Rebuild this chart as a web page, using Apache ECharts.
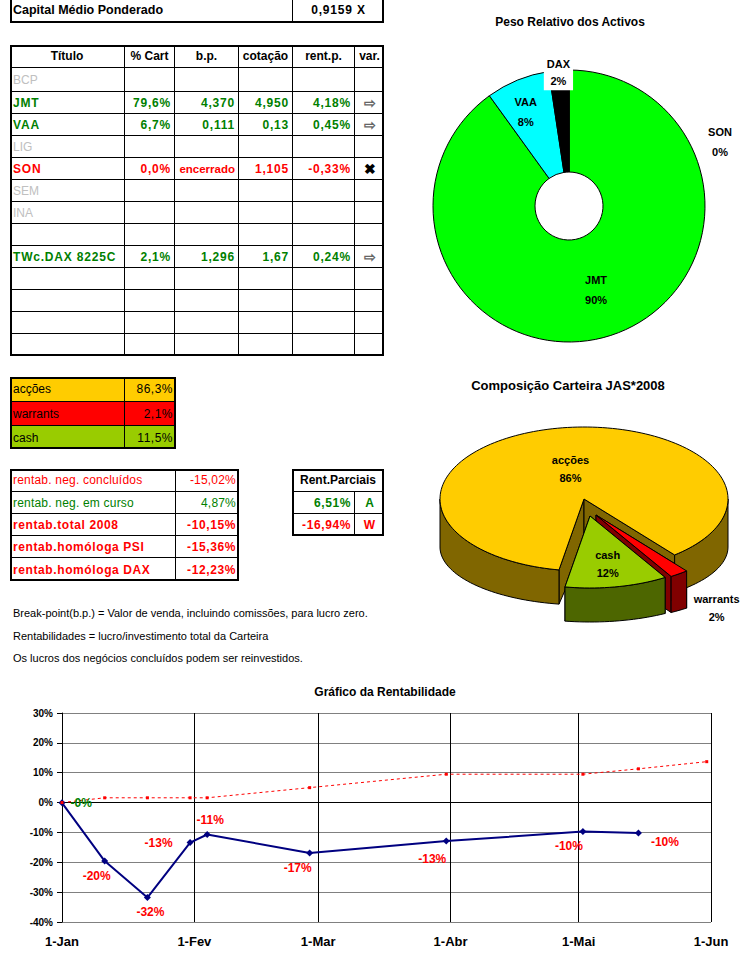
<!DOCTYPE html>
<html><head><meta charset="utf-8">
<script src="https://cdn.jsdelivr.net/npm/echarts@6/dist/echarts.min.js"></script>
<style>
html,body{margin:0;padding:0;background:#fff;width:749px;height:968px;overflow:hidden;}
body{position:relative;font-family:'Liberation Sans',Arial,sans-serif;}
#chart{position:absolute;left:0;top:0;width:749px;height:968px;}
#sheet{position:absolute;left:0;top:0;width:749px;height:968px;}
.cell{position:absolute;box-sizing:border-box;font-size:12px;white-space:nowrap;overflow:hidden;display:flex;align-items:center;padding:0 3px;}
.frame{position:absolute;box-sizing:border-box;border:2px solid #000;}
.note{position:absolute;left:13px;font-size:11px;color:#000;white-space:nowrap;}
</style></head><body>
<div id="chart"></div><div id="sheet"></div>
<script>
// ---------------- data ----------------
const capitalLabel = 'Capital Médio Ponderado';
const capitalValue = 0.9159;

const tableHeader = ['Título', '% Cart', 'b.p.', 'cotação', 'rent.p.', 'var.'];
const assetTitles = ['BCP','JMT','VAA','LIG','SON','SEM','INA','','TWc.DAX 8225C','','','',''];
const assetState  = ['off','on','on','off','closed','off','off','','on','','','',''];
const assetPctCart = [null,79.6,6.7,null,0.0,null,null,null,2.1,null,null,null,null];
const assetBP     = ['','4,370','0,111','','encerrado','','','','1,296','','','',''];
const assetQuote  = ['','4,950','0,13','','1,105','','','','1,67','','','',''];
const assetRentP  = [null,4.18,0.45,null,-0.33,null,null,null,0.24,null,null,null,null];
const assetVar    = ['','\u21E8','\u21E8','','\u2716','','','','\u21E8','','','',''];

const compNames  = ['acções','warrants','cash'];
const compValues = [86.3, 2.1, 11.5];

const rentNames  = ['rentab. neg. concluídos','rentab. neg. em curso','rentab.total 2008','rentab.homóloga PSI','rentab.homóloga DAX'];
const rentValues = [-15.02, 4.87, -10.15, -15.36, -12.23];
const partialTitle  = 'Rent.Parciais';
const partialValues = [6.51, -16.94];
const partialTags   = ['A','W'];

const notes = [
  'Break-point(b.p.) = Valor de venda, incluindo comissões, para lucro zero.',
  'Rentabilidades = lucro/investimento total da Carteira',
  'Os lucros dos negócios concluídos podem ser reinvestidos.'
];

const pieTitle   = 'Peso Relativo dos Activos';
const pieAssets  = ['JMT','VAA','DAX','SON'];
const pieWeights = [79.6, 6.7, 2.1, 0.0];

const compTitle = 'Composição Carteira JAS*2008';

const lineTitle   = 'Gráfico da Rentabilidade';
const monthLabels = ['Jan','Fev','Mar','Abr','Mai','Jun','Jul','Ago','Set','Out','Nov','Dez'];
const perfDates   = ['2008-01-01','2008-01-11','2008-01-21','2008-01-31','2008-02-04','2008-02-28','2008-03-31','2008-05-02','2008-05-15'];
const perfValues  = [-0.1, -19.6, -31.8, -13.4, -10.7, -16.9, -12.9, -9.7, -10.2];
const benchDates  = ['2008-01-01','2008-01-11','2008-01-21','2008-01-31','2008-02-04','2008-02-28','2008-03-31','2008-05-02','2008-05-15','2008-05-31'];
const benchValues = [0, 1.6, 1.6, 1.6, 1.6, 5.0, 9.5, 9.5, 11.3, 13.7];

// ---------------- styles ----------------
const GREEN = '#008000', RED = '#FF0000', GRAY = '#C0C0C0';
const FONT = "'Liberation Sans', Arial, sans-serif";
const stateColor = {on: GREEN, closed: RED, off: GRAY, '': '#000'};
const compColors = ['#FFCC00', '#FF0000', '#99CC00'];
const compSideColors = ['#806600', '#800000', '#4D6600'];
const compExplode = [[0,0],[12,16],[6,17]];
const compLabelK = [0.43, 1.5, 0.66];
const compLabelNudge = [[2,0],[-4,5],[0,1]];
const pieColors = ['#00FF00', '#00FFFF', '#000000', '#FFFFFF'];
const pieLabelNudge = [[0,0],[-10,-13],[-4,-46],[151,24]];
const perfLabelPlacement = [
  ['right',[0,0]], ['bottom',[-8,0]], ['bottom',[3,0]], ['left',[-9,0]], ['top',[3,0]],
  ['bottom',[-12,0]], ['bottom',[-14,3]], ['bottom',[-14,0]], ['right',[4,9]]
];

// ---------------- helpers ----------------
const fmt = (v, d) => v.toFixed(d).replace('.', ',');
const fmtPct = v => (v < 0 || Object.is(v, -0) ? '-' : '') + Math.abs(Math.round(v)) + '%';
const sheet = document.getElementById('sheet');

function grid(xs, ys, cells) {
  const W = xs[xs.length - 1], H = ys[ys.length - 1];
  cells.forEach(cl => {
    const cs = cl.cs || 1;
    const x = xs[cl.c], x2 = xs[cl.c + cs], y = ys[cl.r], y2 = ys[cl.r + 1];
    const d = document.createElement('div');
    d.className = 'cell';
    d.style.left = x + 'px'; d.style.top = y + 'px';
    d.style.width = (x2 - x) + 'px'; d.style.height = (y2 - y) + 'px';
    if (x2 < W) d.style.borderRight = '1px solid #000';
    if (y2 < H) d.style.borderBottom = '1px solid #000';
    if (cl.bg) d.style.background = cl.bg;
    d.style.justifyContent = cl.a === 'right' ? 'flex-end' : cl.a === 'center' ? 'center' : 'flex-start';
    d.style.color = cl.col || '#000';
    d.style.fontWeight = cl.b ? 'bold' : 'normal';
    if (cl.fs) d.style.fontSize = cl.fs + 'px';
    if (cl.ls) d.style.letterSpacing = cl.ls + 'px';
    d.textContent = cl.t || '';
    sheet.appendChild(d);
  });
  const f = document.createElement('div');
  f.className = 'frame';
  f.style.left = xs[0] + 'px'; f.style.top = ys[0] + 'px';
  f.style.width = (W - xs[0]) + 'px'; f.style.height = (H - ys[0]) + 'px';
  sheet.appendChild(f);
}

// capital box
grid([10,293,384], [-4,23], [
  {r:0,c:0,t:capitalLabel,b:true,fs:12.5},
  {r:0,c:1,t:fmt(capitalValue,4) + ' X',a:'center',b:true,ls:0.8}
]);

// main table
(function(){
  const xs = [10,125,175,239,293,355,384];
  const ys = [45,68,92,114,136,158,180,202,224,246,268,290,312,334,356];
  const cells = [];
  tableHeader.forEach((h,i) => cells.push({r:0,c:i,t:h,a:'center',b:true}));
  assetTitles.forEach((t,i) => {
    const r = i + 1, st = assetState[i], col = stateColor[st], b = (st === 'on' || st === 'closed');
    const ls = b ? 0.8 : 0;
    cells.push({r,c:0,t,col,b,ls});
    cells.push({r,c:1,t:assetPctCart[i]==null?'':fmt(assetPctCart[i],1)+'%',a:'right',col,b,ls});
    const bpTxt = assetBP[i];
    cells.push({r,c:2,t:bpTxt,a:'right',col,b,ls:bpTxt==='encerrado'?0:ls,fs:bpTxt==='encerrado'?11.5:null});
    cells.push({r,c:3,t:assetQuote[i],a:'right',col,b,ls});
    cells.push({r,c:4,t:assetRentP[i]==null?'':fmt(assetRentP[i],2)+'%',a:'right',col,b,ls});
    cells.push({r,c:5,t:assetVar[i],a:'center',col:assetVar[i]==='\u2716'?'#000':'#666',b:true,fs:14});
  });
  grid(xs, ys, cells);
})();

// composition table
grid([10,125,176], [377,402,426,449], compNames.flatMap((n,i) => [
  {r:i,c:0,t:n,bg:compColors[i]},
  {r:i,c:1,t:fmt(compValues[i],1)+'%',a:'right',bg:compColors[i],ls:0.5}
]));

// returns table
grid([10,176,239], [469,492,514,536,558,581], rentNames.flatMap((n,i) => {
  const col = rentValues[i] < 0 ? RED : GREEN, b = i >= 2;
  return [{r:i,c:0,t:n,col,b,ls:b?0.6:0.2},{r:i,c:1,t:fmt(rentValues[i],2)+'%',a:'right',col,b,ls:b?0.6:0.2}];
}));

// partial returns
grid([292,355,384], [469,492,514,536], [
  {r:0,c:0,cs:2,t:partialTitle,a:'center',b:true},
  ...partialValues.flatMap((v,i) => {
    const col = v < 0 ? RED : GREEN;
    return [{r:i+1,c:0,t:fmt(v,2)+'%',a:'right',col,b:true,ls:0.6},{r:i+1,c:1,t:partialTags[i],a:'center',col,b:true}];
  })
]);

// notes
[607, 630, 652].forEach((y,i) => {
  const d = document.createElement('div');
  d.className = 'note'; d.style.top = y + 'px'; d.textContent = notes[i];
  sheet.appendChild(d);
});

// ---------------- 3D pie geometry (custom series) ----------------
const P3 = {cx:584, cy:499, rx:144, ry:72, cyb:547, ryb:58, start:100};
const compTotal = compValues.reduce((a,b) => a + b, 0);
const compAngles = (function(){
  let acc = P3.start; const out = [];
  compValues.forEach(v => { const a0 = acc; acc += v / compTotal * 360; out.push([a0, acc]); });
  return out;
})();
const rad = d => d * Math.PI / 180;

function render3D(params, api) {
  const i = params.dataIndex;
  const [a0, a1] = compAngles[i];
  const mid = rad((a0 + a1) / 2);
  const ox = compExplode[i][0], oy = compExplode[i][1];
  const top = a => [P3.cx + ox + P3.rx * Math.cos(rad(a)), P3.cy + oy + P3.ry * Math.sin(rad(a))];
  const bot = a => [P3.cx + ox + P3.rx * Math.cos(rad(a)), P3.cyb + oy + P3.ryb * Math.sin(rad(a))];
  const apexT = [P3.cx + ox, P3.cy + oy], apexB = [P3.cx + ox, P3.cyb + oy];
  const side = compSideColors[i], fill = compColors[i];
  const stroke = {stroke:'#000', lineWidth:1};
  const children = [];
  [a0, a1].forEach(a => children.push({type:'polygon', z2:1, shape:{points:[apexT, top(a), bot(a), apexB]}, style:Object.assign({fill:side}, stroke)}));
  for (let k = 0; k < 3; k++) {
    const s = Math.max(a0, k * 360), en = Math.min(a1, k * 360 + 180);
    if (en > s) {
      const pts = [];
      const n = Math.max(2, Math.ceil((en - s) / 2));
      for (let j = 0; j <= n; j++) pts.push(top(s + (en - s) * j / n));
      for (let j = n; j >= 0; j--) pts.push(bot(s + (en - s) * j / n));
      children.push({type:'polygon', z2:2, shape:{points:pts}, style:Object.assign({fill:side}, stroke)});
    }
  }
  const tp = [apexT];
  const n = Math.max(2, Math.ceil((a1 - a0) / 2));
  for (let j = 0; j <= n; j++) tp.push(top(a0 + (a1 - a0) * j / n));
  children.push({type:'polygon', z2:3, shape:{points:tp}, style:Object.assign({fill:fill}, stroke)});
  const k = compLabelK[i];
  const lx = apexT[0] + k * P3.rx * Math.cos(mid) + compLabelNudge[i][0];
  const ly = apexT[1] + k * P3.ry * Math.sin(mid) + compLabelNudge[i][1];
  const pct = Math.round(api.value(0) / compTotal * 100);
  children.push({type:'text', z2:10, style:{text: compNames[i] + '\n' + pct + '%', x:lx, y:ly, align:'center', verticalAlign:'middle', fill:'#000', fontSize:11, fontWeight:'bold', fontFamily:FONT, lineHeight:18}});
  return {type:'group', children};
}

// ---------------- chart ----------------
const chart = echarts.init(document.getElementById('chart'), null, {renderer:'svg', width:749, height:968});
const titleStyle = {fontSize:12, fontWeight:'bold', color:'#000', fontFamily:FONT};
chart.setOption({
  animation: false,
  textStyle: {fontFamily: FONT},
  title: [
    {text: pieTitle, left: 570, top: 16, textAlign: 'center', padding: 0, textStyle: titleStyle},
    {text: compTitle, left: 568, top: 379, textAlign: 'center', padding: 0, textStyle: Object.assign({}, titleStyle, {fontSize: 13})},
    {text: lineTitle, left: 385, top: 686, textAlign: 'center', padding: 0, textStyle: titleStyle}
  ],
  grid: {left: 62, right: 38, top: 713, bottom: 46},
  xAxis: {
    type: 'time', min: '2008-01-01', max: '2008-06-01', splitNumber: 5,
    axisLine: {lineStyle: {color: '#000', width: 1}},
    axisTick: {show: true, length: 5, lineStyle: {color: '#000'}},
    splitLine: {show: true, lineStyle: {color: '#000', width: 1}},
    axisLabel: {
      formatter: v => '1-' + monthLabels[new Date(v).getMonth()],
      fontSize: 13, fontWeight: 'bold', color: '#000', margin: 13,
      showMinLabel: true, showMaxLabel: true, hideOverlap: false
    }
  },
  yAxis: {
    type: 'value', min: -40, max: 30, interval: 10,
    axisLine: {show: true, lineStyle: {color: '#000'}},
    axisTick: {show: true, length: 5, lineStyle: {color: '#000'}},
    splitLine: {show: true, lineStyle: {color: '#808080', width: 1}},
    axisLabel: {formatter: '{value}%', fontSize: 10, fontWeight: 'bold', color: '#000', margin: 9}
  },
  series: [
    {
      type: 'pie', center: [569, 206], radius: [34, 136], startAngle: 90, clockwise: true,
      silent: true, emphasis: {disabled: true},
      itemStyle: {borderColor: '#000', borderWidth: 1},
      label: {
        show: true, position: 'inside', color: '#000', fontSize: 11, fontWeight: 'bold', lineHeight: 20,
        formatter: p => p.name + '\n' + Math.round(p.percent) + '%'
      },
      labelLine: {show: false},
      labelLayout: p => ({dx: pieLabelNudge[p.dataIndex][0], dy: pieLabelNudge[p.dataIndex][1]}),
      data: pieAssets.map((n, i) => ({
        name: n, value: pieWeights[i], itemStyle: {color: pieColors[i]},
        label: n === 'DAX' ? {backgroundColor: '#fff', padding: [1, 3], lineHeight: 17} : {}
      }))
    },
    {
      type: 'custom', coordinateSystem: 'none', silent: true,
      data: compValues,
      renderItem: render3D
    },
    {
      type: 'line', name: 'Rentabilidade', silent: true,
      symbol: 'diamond', symbolSize: 7,
      itemStyle: {color: '#000080'},
      lineStyle: {color: '#000080', width: 2},
      label: {show: true, color: RED, fontSize: 12, fontWeight: 'bold', formatter: p => fmtPct(p.value[1])},
      data: perfDates.map((d, i) => ({
        value: [d, perfValues[i]],
        label: {position: perfLabelPlacement[i][0], offset: perfLabelPlacement[i][1], color: i === 0 ? GREEN : RED}
      }))
    },
    {
      type: 'line', name: 'Referência', silent: true,
      symbol: 'rect', symbolSize: 3,
      itemStyle: {color: RED},
      lineStyle: {color: RED, width: 1, type: [3, 3]},
      data: benchDates.map((d, i) => [d, benchValues[i]])
    }
  ]
});
</script>
</body></html>
